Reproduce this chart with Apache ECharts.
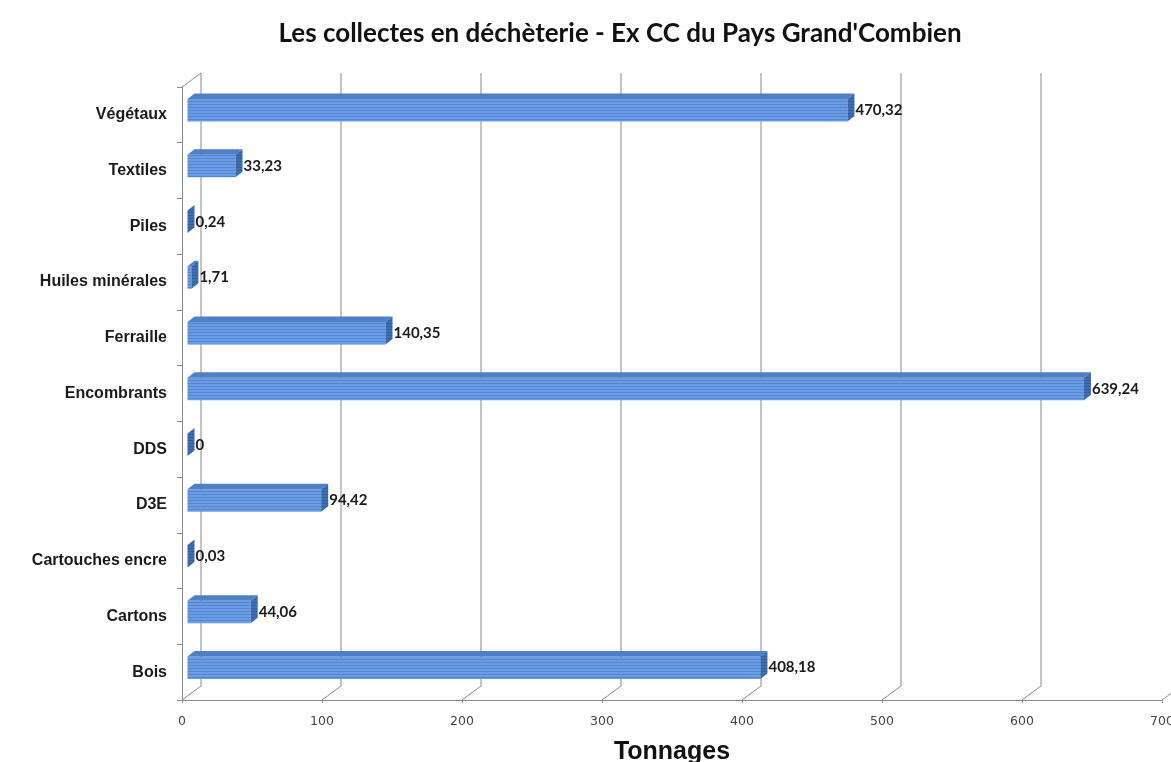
<!DOCTYPE html>
<html>
<head>
<meta charset="utf-8">
<script src="https://cdn.jsdelivr.net/npm/echarts@6/dist/echarts.min.js"></script>
<style>
html,body{margin:0;padding:0;background:#fff;}
#chart{width:1171px;height:762px;}
</style>
</head>
<body>
<div id="chart"></div>
<script>
// ---- data ----
const categories = ['Bois','Cartons','Cartouches encre','D3E','DDS','Encombrants','Ferraille','Huiles minérales','Piles','Textiles','Végétaux'];
const tonnages   = [408.18, 44.06, 0.03, 94.42, 0, 639.24, 140.35, 1.71, 0.24, 33.23, 470.32];
const xTicks     = [0, 100, 200, 300, 400, 500, 600, 700];
const titleText  = "Les collectes en déchèterie - Ex CC du Pays Grand'Combien";
const xAxisName  = 'Tonnages';

function fmt(v){ return String(v).replace('.', ','); }

function stripePattern(c1, c2){
  const cv = document.createElement('canvas');
  cv.width = 4; cv.height = 3;
  const ctx = cv.getContext('2d');
  ctx.fillStyle = c1; ctx.fillRect(0,0,4,3);
  ctx.fillStyle = c2; ctx.fillRect(0,2,4,1);
  return {image: cv, repeat: 'repeat'};
}
const frontFill = stripePattern('#6a9de3', '#5486cf');
const sideFill  = stripePattern('#3e6fb2', '#335f9c');
const topFill   = '#4f7fc4';

const DX = 19, DY = -14;          // depth of the 3D wall
const BOX = 7, BOY = -4.5;        // bar front face offset inside depth
const BDX = 7, BDY = -5.5;        // bar depth
const BH = 22.5;                  // bar front face height

function renderFrame(params, api){
  const cs = params.coordSys;
  const v = api.value(0);
  const x = api.coord([v, 0])[0];
  const yb = cs.y + cs.height;
  const yt = cs.y;
  const st = {stroke:'#8a8a8a', lineWidth:1};
  const children = [
    {type:'line', shape:{x1:x, y1:yb, x2:x+DX, y2:yb+DY}, style:st},
    {type:'line', shape:{x1:x+DX, y1:yb+DY, x2:x+DX, y2:yt+DY}, style:st}
  ];
  if (v === 0) {
    children.push({type:'line', shape:{x1:x, y1:yt, x2:x+DX, y2:yt+DY}, style:st});
  }
  return {type:'group', children};
}

function renderBar(params, api){
  const v = api.value(0);
  const i = api.value(1);
  const p0 = api.coord([0, i]);
  const p1 = api.coord([v, i]);
  const x0 = p0[0] + BOX - 1.5, x1 = p1[0] + BOX;
  const yt = p0[1] + BOY - BH/2, yb = yt + BH;
  const children = [];
  if (v > 0.5) {
    children.push({type:'rect', shape:{x:x0, y:yt, width:x1-x0, height:BH}, style:{fill:frontFill}});
    children.push({type:'polygon', shape:{points:[[x0,yt],[x1,yt],[x1+BDX,yt+BDY],[x0+BDX,yt+BDY]]}, style:{fill:topFill}});
  }
  const xs = v > 0.5 ? x1 : x0;
  children.push({type:'polygon', shape:{points:[[xs,yt],[xs+BDX,yt+BDY],[xs+BDX,yb+BDY],[xs,yb]]}, style:{fill:sideFill}});
  children.push({type:'text', style:{
    x: xs + BDX + 1, y: (yt+yb)/2,
    text: fmt(v), fill:'#1a1a1a',
    font: 'bold 15px Lato, "Liberation Sans", sans-serif',
    verticalAlign:'middle', align:'left'
  }});
  return {type:'group', children};
}

const chart = echarts.init(document.getElementById('chart'), null, {renderer:'canvas'});
chart.setOption({
  backgroundColor:'#ffffff',
  animation:false,
  title:{
    text:titleText, left:615, top:16, textAlign:'center',
    textStyle:{fontFamily:'Lato, "Open Sans", sans-serif', fontWeight:'bold', fontSize:26, color:'#111'}
  },
  grid:{left:182, right:9, top:87, bottom:62, containLabel:false, outerBoundsMode:'none'},
  xAxis:{
    type:'value', min:0, max:700, interval:100,
    name:xAxisName, nameLocation:'middle', nameGap:40,
    nameTextStyle:{fontFamily:'"Liberation Sans", Arial, sans-serif', fontWeight:'bold', fontSize:25, color:'#111'},
    axisLine:{show:true, lineStyle:{color:'#8a8a8a', width:1}},
    axisTick:{show:true, length:3, lineStyle:{color:'#8a8a8a'}},
    axisLabel:{margin:15, fontFamily:'"DejaVu Sans", Verdana, sans-serif', fontSize:12.5, color:'#444'},
    splitLine:{show:false}
  },
  yAxis:{
    type:'category', data:categories, boundaryGap:true,
    axisLine:{show:true, lineStyle:{color:'#8a8a8a', width:1}},
    axisTick:{show:true, length:5, lineStyle:{color:'#8a8a8a'}},
    axisLabel:{margin:15, fontFamily:'"Liberation Sans", Arial, sans-serif', fontWeight:'bold', fontSize:16, color:'#1a1a1a', padding:[2,0,0,0]},
    splitLine:{show:false}
  },
  series:[
    {
      type:'custom', name:'frame', z:1, silent:true,
      renderItem:renderFrame,
      encode:{x:0},
      data:xTicks.map(v=>[v])
    },
    {
      type:'custom', name:'Tonnages', z:5,
      renderItem:renderBar,
      encode:{x:0, y:1},
      data:tonnages.map((v,i)=>[v,i])
    }
  ]
});
</script>
</body>
</html>
